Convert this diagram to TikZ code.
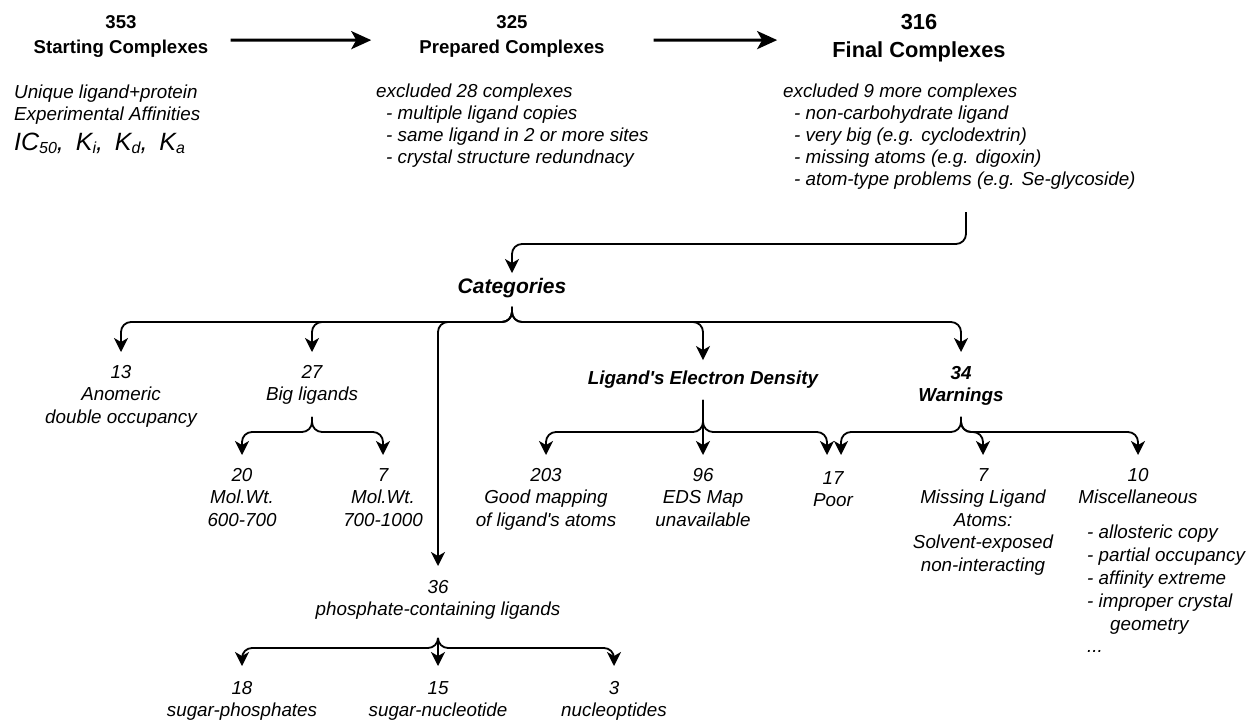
\documentclass[tikz,border=0pt]{standalone}
\usepackage{fontspec}
\setmainfont{Liberation Sans}[Ligatures=TeXOff]
\usetikzlibrary{arrows.meta,calc}
% lowered subscript for the affinity symbols
\newcommand\affsub[1]{\raisebox{-3.5pt}{\fontsize{16}{16}\selectfont #1}}
\begin{document}
\begin{tikzpicture}[x=1pt,y=-1pt,
  txt/.style={inner sep=0pt,align=center,anchor=north,font=\itshape\fontsize{18.8}{22.5}\selectfont},
  bold/.style={txt,font=\bfseries\itshape\fontsize{18.8}{22.5}\selectfont},
  list/.style={inner sep=0pt,align=left,anchor=north west,font=\itshape\fontsize{18.8}{21.8}\selectfont},
  head/.style={inner sep=0pt,align=center,anchor=north,font=\bfseries\fontsize{18.6}{25}\selectfont},
  wire/.style={line width=1.8pt,rounded corners=10pt},
  arr/.style={wire,-{Stealth[length=14pt,width=14pt,inset=4pt]}},
  bigarr/.style={line width=3pt,-{Stealth[length=20pt,width=18pt,inset=5pt]}},
]
\fill[white] (0,0) rectangle (1248,721);
\useasboundingbox (0,0) rectangle (1248,721);

% ---- pipeline ----
\node[head] (n353) at (121,15) {353\\Starting Complexes};
\node[head] (n325) at (512,15) {325\\Prepared Complexes};
\node[head,font=\bfseries\fontsize{21.8}{28}\selectfont] (n316) at (919,14) {316\\Final Complexes};

\draw[bigarr] ([shift={(22,4)}]n353.east) -- ([shift={(-48,4)}]n325.west);
\draw[bigarr] ([shift={(49,4)}]n325.east) -- ([shift={(-55,2)}]n316.west);

\node[list] (nAff) at (14,85) {Unique ligand+protein\\Experimental Affinities\\[8pt]{\fontsize{25}{28}\selectfont IC\affsub{50},\hspace{5pt} K\affsub{i},\hspace{5pt} K\affsub{d},\hspace{5pt} K\affsub{a}}};

\node[list] (nEx28) at (376,84) {excluded 28 complexes\\
  \hspace*{10pt}- multiple ligand copies\\
  \hspace*{10pt}- same ligand in 2 or more sites\\
  \hspace*{10pt}- crystal structure redundnacy};

\node[list] (nEx9) at (783,84) {excluded 9 more complexes\\
  \hspace*{11pt}- non-carbohydrate ligand\\
  \hspace*{11pt}- very big (e.g. cyclodextrin)\\
  \hspace*{11pt}- missing atoms (e.g. digoxin)\\
  \hspace*{11pt}- atom-type problems (e.g. Se-glycoside)};

% ---- categories ----
\node[bold,anchor=center,font=\bfseries\itshape\fontsize{21}{25}\selectfont] (nCat) at (512,288) {Categories};

\node[txt] (n13) at (121,365) {13\\Anomeric\\double occupancy};
\node[txt] (n27) at (312,365) {27\\Big ligands};
\node[bold,anchor=center] (nLED) at (703,380) {Ligand's Electron Density};
\node[bold] (n34) at (961,366) {34\\Warnings};

\node[txt] (n20) at (242,468) {20\\Mol.Wt.\\600-700};
\node[txt] (n7a) at (383,468) {7\\Mol.Wt.\\700-1000};
\node[txt] (n203) at (546,468) {203\\Good mapping\\of ligand's atoms};
\node[txt] (n96) at (703,468) {96\\EDS Map\\unavailable};
\node[txt] (n17) at (833,471) {17\\Poor};
\node[txt] (n7b) at (983,468) {7\\Missing Ligand\\Atoms:\\Solvent-exposed\\non-interacting};
\node[txt] (n10) at (1138,468) {10\\Miscellaneous};
\node[list,font=\itshape\fontsize{18.8}{22.8}\selectfont] (nMisc) at (1087,525) {- allosteric copy\\- partial occupancy\\- affinity extreme\\- improper crystal\\\hspace*{23pt}geometry\\...};

\node[txt] (n36) at (438,580) {36\\phosphate-containing ligands};
\node[txt] (n18) at (242,681) {18\\sugar-phosphates};
\node[txt] (n15) at (438,681) {15\\sugar-nucleotide};
\node[txt] (n3) at (614,681) {3\\nucleoptides};

% ---- connectors ----
\coordinate (fout) at (966,212);
\coordinate (yTop) at (0,244);
\draw[arr] (fout) -- (fout |- yTop) -- (nCat.north |- yTop) -- ($(nCat.north)+(0,-5)$);

\coordinate (catStem) at ($(nCat.south)+(0,9)$);
\coordinate (yCat) at (0,322);
\draw[arr] (catStem) -- (catStem |- yCat) -- (n13.north |- yCat) -- ($(n13.north)+(0,-13)$);
\draw[arr] (catStem) -- (catStem |- yCat) -- (n27.north |- yCat) -- ($(n27.north)+(0,-13)$);
\draw[arr] (catStem) -- (catStem |- yCat) -- (n36.north |- yCat) -- ($(n36.north)+(0,-14)$);
\draw[arr] (catStem) -- (catStem |- yCat) -- (nLED.north |- yCat) -- ($(nLED.north)+(0,-11)$);
\draw[arr] (catStem) -- (catStem |- yCat) -- (n34.north |- yCat) -- ($(n34.north)+(0,-14)$);

\coordinate (yL2) at (0,432);
\coordinate (bigStem) at ($(n27.south)+(0,12)$);
\draw[arr] (bigStem) -- (bigStem |- yL2) -- (n20.north |- yL2) -- ($(n20.north)+(0,-13)$);
\draw[arr] (bigStem) -- (bigStem |- yL2) -- (n7a.north |- yL2) -- ($(n7a.north)+(0,-13)$);

\coordinate (ledStem) at ($(nLED.south)+(0,11)$);
\draw[arr] (ledStem) -- (ledStem |- yL2) -- (n203.north |- yL2) -- ($(n203.north)+(0,-13)$);
\draw[arr] (ledStem) -- ($(n96.north)+(0,-13)$);
\draw[arr] (ledStem) -- (ledStem |- yL2) -- ($(n17.north |- yL2)+(-6,0)$) -- ($(n17.north)+(-6,-16)$);

\coordinate (wStem) at ($(n34.south)+(0,11)$);
\draw[arr] (wStem) -- (wStem |- yL2) -- ($(n17.north |- yL2)+(8,0)$) -- ($(n17.north)+(8,-16)$);
\draw[arr] (wStem) -- (wStem |- yL2) -- (n7b.north |- yL2) -- ($(n7b.north)+(0,-13)$);
\draw[arr] (wStem) -- (wStem |- yL2) -- (n10.north |- yL2) -- ($(n10.north)+(0,-13)$);

\coordinate (yL3) at (0,648);
\coordinate (phStem) at ($(n36.south)+(0,18)$);
\draw[arr] (phStem) -- (phStem |- yL3) -- (n18.north |- yL3) -- ($(n18.north)+(0,-15)$);
\draw[arr] (phStem) -- ($(n15.north)+(0,-15)$);
\draw[arr] (phStem) -- (phStem |- yL3) -- (n3.north |- yL3) -- ($(n3.north)+(0,-15)$);
\end{tikzpicture}
\end{document}
